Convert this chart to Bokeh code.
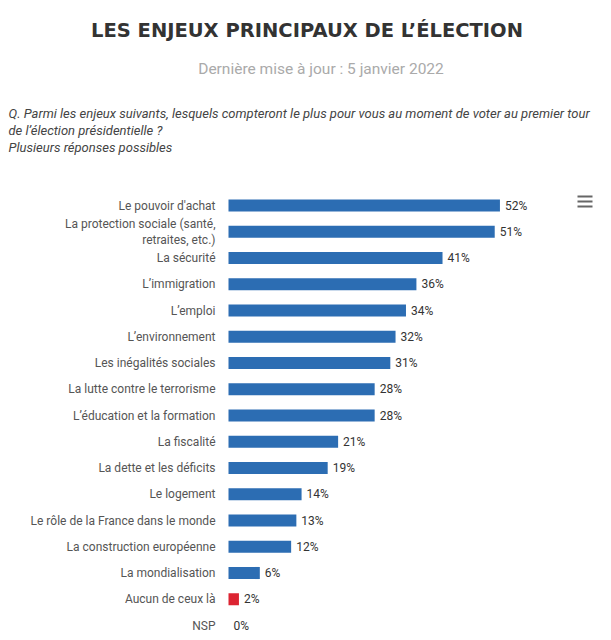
import numpy as np
from bokeh.plotting import figure
from bokeh.models import ColumnDataSource, Range1d, Label, BoxAnnotation
from bokeh.core.properties import value
from bokeh.embed import file_html
from bokeh.resources import INLINE

title = "LES ENJEUX PRINCIPAUX DE L’ÉLECTION"
subtitle = "Dernière mise à jour : 5 janvier 2022"
question = [
    "Q. Parmi les enjeux suivants, lesquels compteront le plus pour vous au moment de voter au premier tour",
    "de l’élection présidentielle ?",
    "Plusieurs réponses possibles",
]
categories = [
    "Le pouvoir d'achat",
    "La protection sociale (santé,\nretraites, etc.)",
    "La sécurité",
    "L’immigration",
    "L’emploi",
    "L’environnement",
    "Les inégalités sociales",
    "La lutte contre le terrorisme",
    "L’éducation et la formation",
    "La fiscalité",
    "La dette et les déficits",
    "Le logement",
    "Le rôle de la France dans le monde",
    "La construction européenne",
    "La mondialisation",
    "Aucun de ceux là",
    "NSP",
]
values = [52, 51, 41, 36, 34, 32, 31, 28, 28, 21, 19, 14, 13, 12, 6, 2, 0]
highlight = "Aucun de ceux là"

BLUE = "#2c6db3"
RED = "#dc2432"

W, H = 611, 640
# layout (pixels)
BAR_X0 = 228          # left edge of the bars
PX_PER_PCT = 5.22
ROW_PX = 26.25
FIRST_ROW_Y = 205     # centre of first row, from top
LAST_ROW_Y = 625

n = len(categories)
rank = np.arange(n)[::-1]  # first category on top

src = ColumnDataSource(dict(
    cat=categories,
    row=rank,
    val=values,
    lbl=[f"{v}%" for v in values],
    zero=[0] * n,
    color=[RED if c == highlight else BLUE for c in categories],
))

x0 = -BAR_X0 / PX_PER_PCT
x1 = (W - BAR_X0) / PX_PER_PCT
y_top = (n - 1) + FIRST_ROW_Y / ROW_PX
y_bot = -(H - LAST_ROW_Y) / ROW_PX

p = figure(
    width=W, height=H,
    x_range=Range1d(x0, x1), y_range=Range1d(y_bot, y_top),
    output_backend="svg", toolbar_location=None,
    min_border=0, min_border_left=0, min_border_right=0,
    min_border_top=0, min_border_bottom=0,
    background_fill_color="white", border_fill_color="white",
)
p.outline_line_color = None
p.xgrid.visible = False
p.ygrid.visible = False
p.xaxis.visible = False
p.yaxis.visible = False
p.toolbar.logo = None

p.hbar(y="row", left=0, right="val", height=0.46, fill_color="color",
       line_color=None, source=src)

p.text(x="zero", y="row", text="cat", source=src, x_offset=-13,
       text_align="right", text_baseline="middle",
       text_font=value("Roboto"), text_font_size="12px",
       text_color="#555555", text_line_height=1.15)

p.text(x="val", y="row", text="lbl", source=src, x_offset=5,
       text_align="left", text_baseline="middle",
       text_font=value("Roboto"), text_font_size="12px",
       text_color="#333333")

# Title / subtitle / question (screen units, y measured from bottom)
def lab(x, y_from_top, text, **kw):
    p.add_layout(Label(x=x, y=H - y_from_top, x_units="screen", y_units="screen",
                       text=text, text_baseline="middle", **kw))

lab(W / 2 + 1, 30, title, text_align="center", text_font="DejaVu Sans",
    text_font_style="bold", text_font_size="19.5px", text_color="#333333")
lab(W / 2 + 15, 68, subtitle, text_align="center", text_font="Roboto",
    text_font_size="15.5px", text_color="#aaaaaa")
for i, line in enumerate(question):
    lab(8, 113 + 17 * i, line, text_align="left", text_font="Roboto",
        text_font_style="italic", text_font_size="13px", text_color="#444444")

# hamburger menu icon
for yy in (196, 201, 206):
    p.add_layout(BoxAnnotation(left=577, right=592, top=H - yy + 1, bottom=H - yy - 1,
                               left_units="screen", right_units="screen",
                               top_units="screen", bottom_units="screen",
                               fill_color="#666666", fill_alpha=1, line_color=None))

open("out.html", "w").write(file_html(p, INLINE))
